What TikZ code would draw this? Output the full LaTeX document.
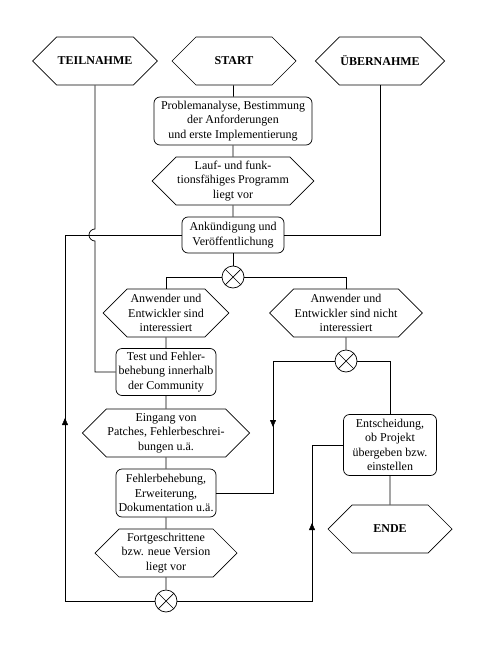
\documentclass[tikz,border=0pt]{standalone}
\usepackage{fontspec}
\setmainfont{Liberation Serif}
\usetikzlibrary{arrows.meta,positioning,shapes.symbols,decorations.markings}

\begin{document}
\begin{tikzpicture}[
  x=1pt,y=1pt,
  font=\fontsize{12}{14.5}\selectfont,
  line/.style={line width=0.7pt},
  hexa/.style={shape=signal,signal to=west and east,signal pointer angle=90,draw,line width=0.7pt,
    minimum height=48pt,minimum width=#1,inner sep=1pt,align=center},
  hexa/.default=124pt,
  event/.style={hexa=124pt,font=\fontsize{12}{14.5}\selectfont\bfseries},
  func/.style={draw,rounded corners=6pt,line width=0.7pt,align=center,inner sep=2pt},
  xor/.style={circle,draw,line width=0.7pt,minimum size=22pt,inner sep=0pt,
    path picture={\draw[line width=0.7pt] (path picture bounding box.north west)--(path picture bounding box.south east)
      (path picture bounding box.north east)--(path picture bounding box.south west);}},
  midarr/.style={postaction={decorate},decoration={markings,
    mark=at position 0.5 with {\arrow{Triangle[length=7pt,width=6pt]}}}}]
\useasboundingbox (0,0) rectangle (490,-658);
% events at the top
\node[event] (teil) at (95,-61) {TEILNAHME};
\node[event] (start) at (234,-61) {START};
\node[event] (ueber) at (380,-61) {ÜBERNAHME};
% main column
\node[func,minimum width=158pt,minimum height=48pt] (prob) at (233,-121) {Problemanalyse, Bestimmung\\der Anforderungen\\und erste Implementierung};
\node[hexa=139pt] (lauf) at (233,-181) {Lauf- und funk-\\tionsfähiges Programm\\liegt vor};
\node[func,minimum width=102pt,minimum height=36pt] (ankn) at (233,-235) {Ankündigung und\\Veröffentlichung};
\node[xor] (xa) at (233,-277) {};
\node[hexa=123pt] (intl) at (166,-313) {Anwender und\\Entwickler sind\\interessiert};
\node[hexa=124pt] (intr) at (346,-313) {Anwender und\\Entwickler sind nicht\\interessiert};
\node[func,minimum width=100pt,minimum height=47pt] (test) at (166,-372) {Test und Fehler-\\behebung innerhalb\\der Community};
\node[xor] (xb) at (346,-361) {};
\node[hexa=142pt] (eing) at (166,-433) {Eingang von\\Patches, Fehlerbeschrei-\\bungen u.ä.};
\node[func,minimum width=100pt,minimum height=48pt] (fehl) at (166,-493) {Fehlerbehebung,\\Erweiterung,\\Dokumentation u.ä.};
\node[func,minimum width=93pt,minimum height=61pt] (ents) at (390,-445) {Entscheidung,\\ob Projekt\\übergeben bzw.\\einstellen};
\node[event] (ende) at (390,-529) {ENDE};
\node[hexa=142pt] (fort) at (166,-553) {Fortgeschrittene\\bzw. neue Version\\liegt vor};
\node[xor] (xc) at (166,-601) {};
% corner points of the loops
\coordinate (lt) at (65,-235);
\coordinate (lb) at (65,-601);
\coordinate (rt) at (312,-445);
\coordinate (rb) at (312,-601);
\coordinate (mt) at (273,-361);
\coordinate (mb) at (273,-493);
\coordinate (jt) at (95,-229);
\draw[line] (start)--(prob);
\draw[line] (prob)--(lauf);
\draw[line] (lauf)--(ankn);
\draw[line] (ankn)--(xa);
\draw[line] (xa)-|(intl);
\draw[line] (xa)-|(intr);
\draw[line] (intl)--(test);
\draw[line] (test)--(eing);
\draw[line] (eing)--(fehl);
\draw[line] (fehl)--(fort);
\draw[line] (fort)--(xc);
\draw[line] (intr)--(xb);
\draw[line] (xb)-|(ents);
\draw[line] (ents)--(ende);
\draw[line] (ueber)|-(ankn);
\draw[line] (teil)--(jt) arc[start angle=90,end angle=270,radius=6] |-(test);
\draw[line] (xc)-|(lt)--(ankn);
\path[midarr] (lb)--(lt);
\draw[line] (xc)-|(rt)--(ents);
\path[midarr] (rb)--(rt);
\draw[line] (xb)-|(mb)--(fehl);
\path[midarr] (mt)--(mb);
\end{tikzpicture}
\end{document}
